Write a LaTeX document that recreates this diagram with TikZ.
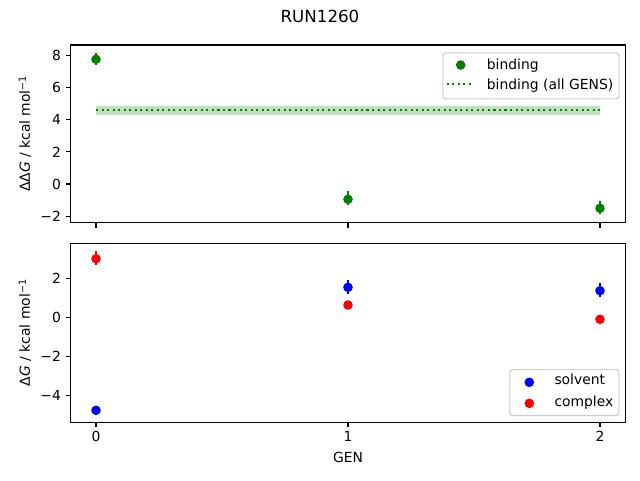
\documentclass[tikz,border=0pt]{standalone}
\usepackage{fontspec}
\setmainfont{DejaVu Sans}
\definecolor{mplgreen}{HTML}{008000}
\definecolor{mplblue}{HTML}{0000FF}
\definecolor{mplred}{HTML}{FF0000}
\definecolor{bandgreen}{RGB}{191,223,191}
\definecolor{legframe}{RGB}{204,204,204}
\newcommand{\supm}{{\fontsize{9.7}{10}\selectfont\raisebox{0.42em}{−1}}}
\begin{document}
\begin{tikzpicture}[x=1pt,y=-1pt,
  every node/.style={font=\fontsize{13.89}{16}\selectfont, inner sep=0pt},
  spine/.style={line width=1.1pt, black},
  tickmark/.style={line width=1.1pt, black},
  dotb/.style={circle, minimum size=9.6pt, inner sep=0pt, draw=none},
  ebar/.style={line width=2.1pt},
  legbox/.style={draw=legframe, fill=white, fill opacity=0.8, rounded corners=2.8pt, line width=1.1pt},
  dotline/.style={line width=2.08pt, dash pattern=on 2.08pt off 3.44pt, color=mplgreen},
  ticklab/.style={anchor=east},
  xticklab/.style={anchor=base}]
\useasboundingbox (0,0) rectangle (640,480);
\fill[white] (0,0) rectangle (640,480);

% title
\node[anchor=base, font=\fontsize{16.67}{19}\selectfont] (title) at (320,22) {RUN1260};

% ===== top axes =====
\fill[bandgreen] (96,106) rectangle (600,115);
\draw[dotline] (96,110) -- (600,110);
% error bars top
\draw[ebar, mplgreen] (96,53.3) -- (96,64.7);
\draw[ebar, mplgreen] (348,191) -- (348,205.3);
\draw[ebar, mplgreen] (600,201) -- (600,214.3);
\node[dotb, fill=mplgreen] (b0) at (96,59.3) {};
\node[dotb, fill=mplgreen] (b1) at (348,199.3) {};
\node[dotb, fill=mplgreen] (b2) at (600,208.3) {};
% spines
\draw[spine] (70.8,45) rectangle (625.2,222.7);
% y ticks
\foreach \v/\lab in {-2/−2,0/0,2/2,4/4,6/6,8/8}{
  \draw[tickmark] (70.8,{184-16.07*\v}) -- (65.9,{184-16.07*\v});
  \node[ticklab] at (61.1,{184-16.07*\v}) {\lab};
}
% x ticks (no labels)
\foreach \x in {96,348,600}{
  \draw[tickmark] (\x,222.7) -- (\x,227.6);
}
\node[rotate=90] (ylab1) at (25,133.9) {ΔΔ\textit{G} / kcal mol\supm};
% legend top
\node[legbox, minimum width=176pt, minimum height=46pt, anchor=north west] (leg1) at (442.3,52.3) {};
\node[dotb, fill=mplgreen] (lm1) at (460.7,65) {};
\node[anchor=base west] (lt1) at (486.7,69.3) {binding};
\coordinate (ls1) at (446.7,84.3);
\coordinate (le1) at (474,84.3);
\draw[dotline] (ls1) -- (le1);
\node[anchor=base west] (lt2) at (486.7,89) {binding (all GENS)};

% ===== bottom axes =====
\draw[ebar, mplred] (96,251) -- (96,265);
\draw[ebar, mplblue] (96,408) -- (96,412.6);
\draw[ebar, mplblue] (348,280) -- (348,294);
\draw[ebar, mplred] (348,301) -- (348,309);
\draw[ebar, mplblue] (600,283.3) -- (600,297);
\draw[ebar, mplred] (600,315) -- (600,323.6);
\node[dotb, fill=mplblue] (s0) at (96,410.3) {};
\node[dotb, fill=mplblue] (s1) at (348,287.3) {};
\node[dotb, fill=mplblue] (s2) at (600,290.7) {};
\node[dotb, fill=mplred] (c0) at (96,258.7) {};
\node[dotb, fill=mplred] (c1) at (348,305) {};
\node[dotb, fill=mplred] (c2) at (600,319.3) {};
\draw[spine] (70.8,243.3) rectangle (625.2,422.3);
\foreach \v/\lab in {-4/−4,-2/−2,0/0,2/2}{
  \draw[tickmark] (70.8,{317.3-19.6*\v}) -- (65.9,{317.3-19.6*\v});
  \node[ticklab] at (61.1,{317.3-19.6*\v}) {\lab};
}
\foreach \x/\lab in {96/0,348/1,600/2}{
  \draw[tickmark] (\x,422.3) -- (\x,427.2);
  \node[xticklab] at (\x,441.7) {\lab};
}
\node[anchor=base] (xlab) at (348,462.3) {GEN};
\node[rotate=90] (ylab2) at (25,332.8) {Δ\textit{G} / kcal mol\supm};
% legend bottom
\node[legbox, minimum width=109pt, minimum height=46pt, anchor=north west] (leg2) at (509.3,369) {};
\node[dotb, fill=mplblue] (lm2) at (529.3,382.3) {};
\node[anchor=base west] (lt3) at (554.3,384.8) {solvent};
\node[dotb, fill=mplred] (lm3) at (529.3,403.3) {};
\node[anchor=base west] (lt4) at (554.3,406.2) {complex};
\end{tikzpicture}
\end{document}
